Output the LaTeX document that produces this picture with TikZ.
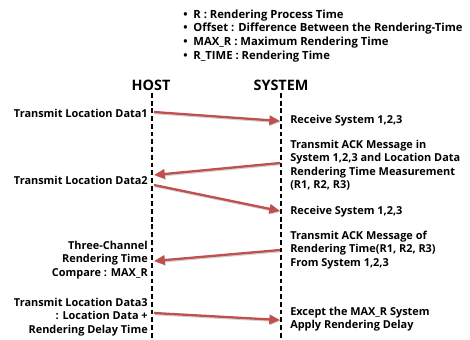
\documentclass[tikz,border=0pt]{standalone}
\usepackage{fontspec}
\setmainfont{Open Sans}
\usetikzlibrary{arrows.meta}
\definecolor{arrowred}{HTML}{C0504D}
\begin{document}
\begin{tikzpicture}[x=0.75pt,y=-0.75pt,
  lbl/.style={font=\bfseries\fontsize{8.2}{10.1}\selectfont, inner sep=0pt},
  rlbl/.style={lbl, anchor=west, align=left},
  llbl/.style={lbl, anchor=east, align=right},
  head/.style={font=\bfseries\fontsize{10.8}{12}\selectfont, inner sep=0pt},
  life/.style={line width=1.1pt, dash pattern=on 3.6pt off 2.2pt},
  msg/.style={draw=arrowred, line width=1.7pt,
    -{Triangle[length=8pt,width=7pt]},
    preaction={draw=black, opacity=0.18, line width=2.2pt, transform canvas={shift={(0.6pt,-0.6pt)}}}}
]
\useasboundingbox (0,0) rectangle (470,339);

% legend
\node[lbl, font=\bfseries\fontsize{8.45}{10.4}\selectfont, anchor=west, align=left] (legend) at (183,36)
  {\makebox[7.6pt][l]{\textbullet}R : Rendering Process Time\\
   \makebox[7.6pt][l]{\textbullet}Offset : Difference Between the Rendering-Time\\
   \makebox[7.6pt][l]{\textbullet}MAX\_R : Maximum Rendering Time\\
   \makebox[7.6pt][l]{\textbullet}R\_TIME : Rendering Time};

% headers
\node[head] (host) at (151,85) {HOST};
\node[head] (sys) at (281,85) {SYSTEM};

% lifelines
\coordinate (hTop) at (152,93);
\coordinate (hBot) at (152,339);
\coordinate (sTop) at (281,93);
\coordinate (sBot) at (281,339);
\draw[life] (hTop) -- (hBot);
\draw[life] (sTop) -- (sBot);

% message end points
\coordinate (a1) at (154,112); \coordinate (b1) at (280,121);
\coordinate (a2) at (280,163); \coordinate (b2) at (154,175);
\coordinate (a3) at (154,185); \coordinate (b3) at (280,211);
\coordinate (a4) at (280,250); \coordinate (b4) at (154,261);
\coordinate (a5) at (154,313); \coordinate (b5) at (280,320);

\draw[msg] (a1) -- (b1);
\draw[msg] (a2) -- (b2);
\draw[msg] (a3) -- (b3);
\draw[msg] (a4) -- (b4);
\draw[msg] (a5) -- (b5);

% left labels
\node[llbl] (l1) at (148,113) {Transmit Location Data1};
\node[llbl] (l2) at (148,180) {Transmit Location Data2};
\node[llbl] (l3) at (148,260) {Three-Channel\\Rendering Time\\Compare : MAX\_R};
\node[llbl] (l4) at (148,317) {Transmit Location Data3\\: Location Data +\\Rendering Delay Time};

% right labels
\node[rlbl] (r1) at (290,121) {Receive System 1,2,3};
\node[rlbl] (r2) at (290,165) {Transmit ACK Message in\\System 1,2,3 and Location Data\\Rendering Time Measurement\\(R1, R2, R3)};
\node[rlbl] (r3) at (290,212) {Receive System 1,2,3};
\node[rlbl] (r4) at (290,250) {Transmit ACK Message of\\Rendering Time(R1, R2, R3)\\From System 1,2,3};
\node[rlbl] (r5) at (290,319) {Except the MAX\_R System\\Apply Rendering Delay};
\end{tikzpicture}
\end{document}
